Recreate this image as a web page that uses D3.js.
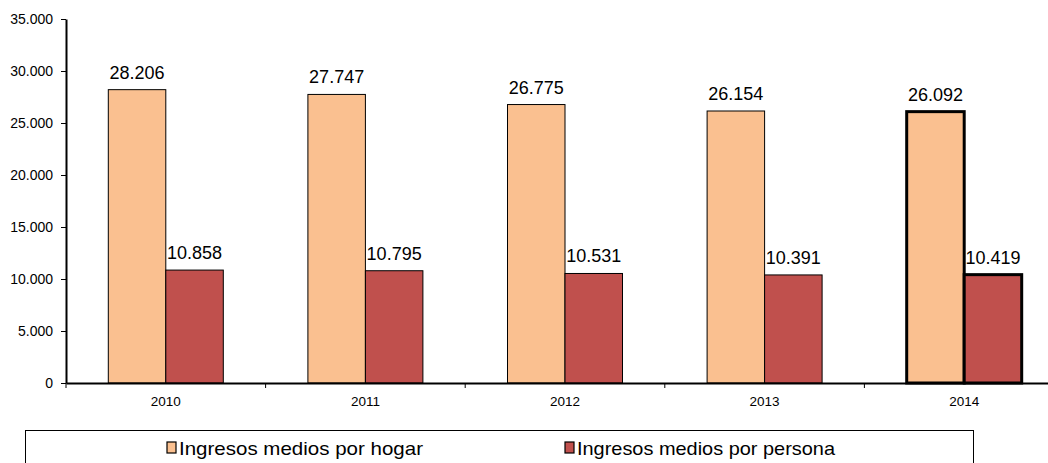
<!DOCTYPE html>
<html>
<head>
<meta charset="utf-8">
<script src="https://cdn.jsdelivr.net/npm/d3@7"></script>
<style>
  body { margin: 0; background: #fff; }
  svg { font-family: "Liberation Sans", Arial, sans-serif; }
</style>
</head>
<body>
<script>
// data
var years = ['2010', '2011', '2012', '2013', '2014']
var hogar = [28206, 27747, 26775, 26154, 26092]
var persona = [10858, 10795, 10531, 10391, 10419]
var seriesNames = ['Ingresos medios por hogar', 'Ingresos medios por persona']
var seriesColors = ['#fac090', '#c0504d']
var yTicks = [0, 5000, 10000, 15000, 20000, 25000, 30000, 35000]

var width = 1048
var height = 463
var margin = { left: 66, top: 19, right: -16, bottom: 80 }

var svg = d3.select('body').append('svg')
  .attr('width', width)
  .attr('height', height)

var x = d3.scaleBand()
  .domain(years)
  .range([margin.left, width - margin.right])
  .paddingInner(0)
  .paddingOuter(0)

var y = d3.scaleLinear()
  .domain([0, 35000])
  .range([height - margin.bottom, margin.top])

var fmt = function (v) {
  return d3.format(',')(v).replace(/,/g, '.')
}

var barW = 57.5

// bars
var series = [hogar, persona]
series.forEach(function (vals, s) {
  svg.append('g').selectAll('rect')
    .data(vals)
    .enter().append('rect')
    .attr('x', function (d, i) { return x(years[i]) + x.bandwidth() / 2 - barW + s * barW })
    .attr('y', function (d) { return y(d) })
    .attr('width', barW)
    .attr('height', function (d) { return y(0) - y(d) })
    .attr('fill', seriesColors[s])
    .attr('stroke', '#000')
    .attr('stroke-width', function (d, i) { return i === 4 ? 3 : 1 })

  // value labels
  svg.append('g').selectAll('text')
    .data(vals)
    .enter().append('text')
    .attr('x', function (d, i) { return x(years[i]) + x.bandwidth() / 2 - barW / 2 + s * barW })
    .attr('y', function (d) { return y(d) - 11 })
    .attr('text-anchor', 'middle')
    .attr('font-size', '18px')
    .attr('fill', '#000')
    .text(fmt)
})

// y axis
var yAxis = svg.append('g')
  .attr('transform', 'translate(' + margin.left + ',0)')
  .call(d3.axisLeft(y).tickValues(yTicks).tickFormat(fmt).tickSize(5).tickSizeOuter(0))
yAxis.select('.domain').attr('stroke', '#000').attr('stroke-width', 2)
yAxis.selectAll('.tick line').attr('stroke', '#000')
yAxis.selectAll('.tick text').attr('font-size', '14px').attr('fill', '#000')
  .attr('font-family', '"Liberation Sans", Arial, sans-serif').attr('x', -13)

// x axis
var xAxis = svg.append('g')
  .attr('transform', 'translate(0,' + y(0) + ')')
  .call(d3.axisBottom(x).tickSize(0).tickSizeOuter(0))
xAxis.select('.domain').attr('stroke', '#000').attr('stroke-width', 2)
xAxis.selectAll('.tick text').attr('font-size', '13.5px').attr('fill', '#000')
  .attr('font-family', '"Liberation Sans", Arial, sans-serif').attr('dy', '1.45em')

// category separator ticks
svg.append('g').selectAll('line')
  .data(years)
  .enter().append('line')
  .attr('x1', function (d) { return x(d) })
  .attr('x2', function (d) { return x(d) })
  .attr('y1', y(0))
  .attr('y2', y(0) + 5)
  .attr('stroke', '#000')

// legend
var legend = svg.append('g')
legend.append('rect')
  .attr('x', 25.5)
  .attr('y', 430.5)
  .attr('width', 948)
  .attr('height', 60)
  .attr('fill', '#fff')
  .attr('stroke', '#000')
  .attr('stroke-width', 1)

var legendX = [167, 565]
seriesNames.forEach(function (name, i) {
  legend.append('rect')
    .attr('x', legendX[i])
    .attr('y', 442)
    .attr('width', 9)
    .attr('height', 11)
    .attr('fill', seriesColors[i])
    .attr('stroke', '#000')
    .attr('stroke-width', 1.2)
  legend.append('text')
    .attr('x', legendX[i] + 12)
    .attr('y', 455)
    .attr('font-size', '19px')
    .attr('fill', '#000')
    .attr('textLength', i === 0 ? 244 : 258)
    .attr('lengthAdjust', 'spacingAndGlyphs')
    .text(name)
})
</script>
</body>
</html>
